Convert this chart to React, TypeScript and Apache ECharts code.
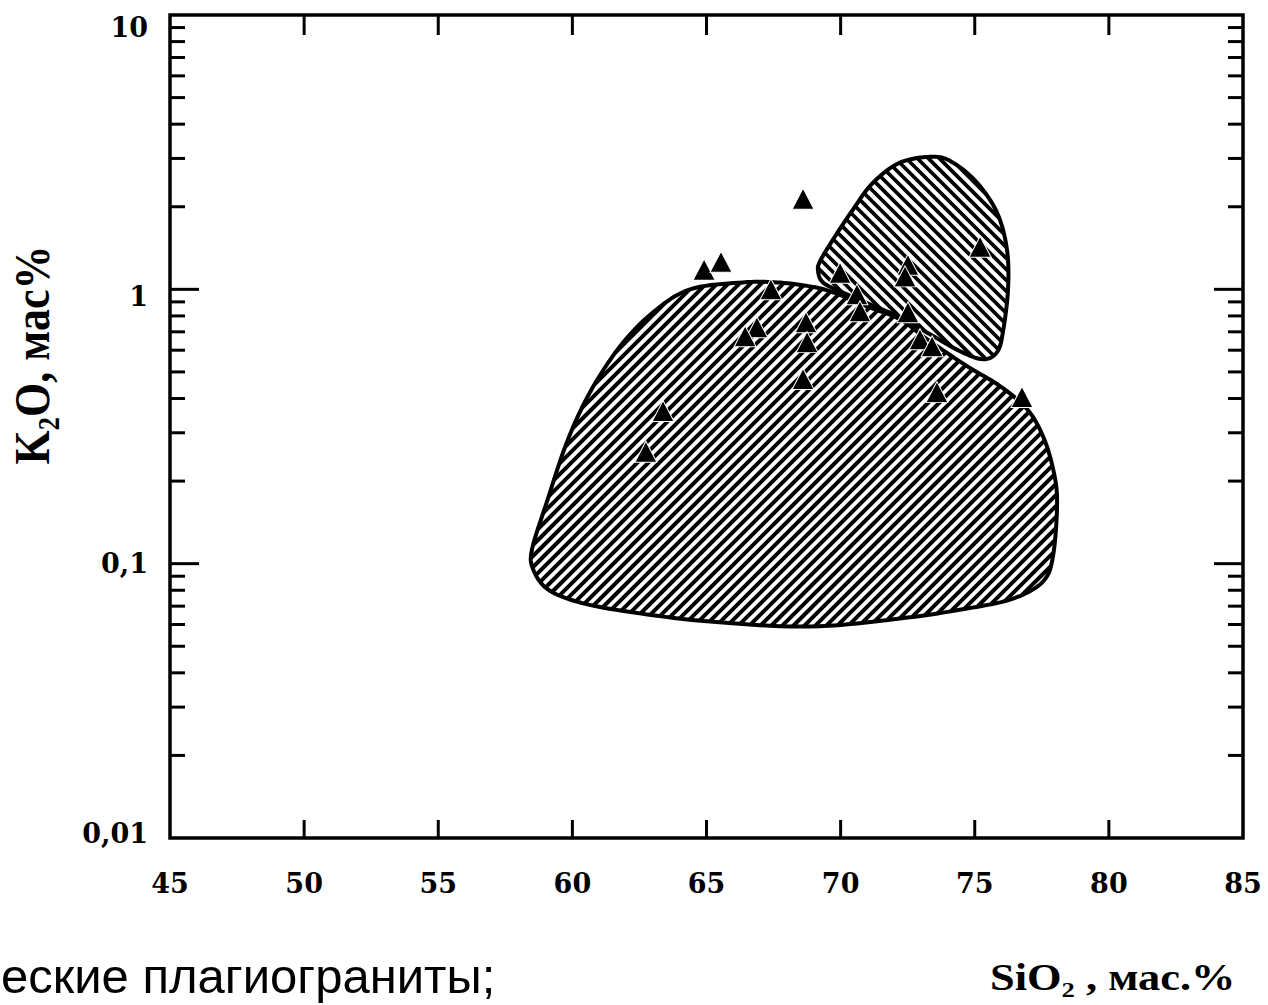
import React, { useEffect, useRef } from 'react';
import * as echarts from 'echarts';

// ---- axis ticks ----
const xTickValues = [45, 50, 55, 60, 65, 70, 75, 80, 85];
const xInnerTicks = [50, 55, 60, 65, 70, 75, 80];
const yTickValues = [0.01, 0.1, 1, 10];
const yTickLabels = ['0,01', '0,1', '1', '10'];
const yMajorInnerTicks = [0.1, 1];
const yMinorTicks = [
  0.02, 0.03, 0.04, 0.05, 0.06, 0.07, 0.08, 0.09,
  0.2, 0.3, 0.4, 0.5, 0.6, 0.7, 0.8, 0.9,
  2, 3, 4, 5, 6, 7, 8, 9,
];

// ---- samples (triangles) ----
const sampleSiO2 = [62.74, 63.38, 64.91, 65.54, 67.4, 68.6, 66.88, 66.44, 68.71, 68.75, 68.6, 69.98, 70.61, 70.72, 72.51, 72.4, 72.51, 72.96, 73.41, 75.2, 73.59, 76.76];
const sampleK2O = [0.256, 0.36, 1.18, 1.26, 1.0, 2.14, 0.727, 0.675, 0.759, 0.642, 0.471, 1.15, 0.959, 0.832, 1.23, 1.115, 0.825, 0.658, 0.62, 1.43, 0.422, 0.405];

// ---- field outlines ----
const bigFieldSiO2 = [66.36, 67.63, 68.86, 69.72, 70.98, 72.21, 73.22, 74.71, 75.94, 76.95, 77.54, 77.92, 78.07, 77.92, 77.54, 76.43, 74.71, 72.21, 68.86, 65.13, 62.04, 60.17, 59.05, 58.53, 58.5, 59.05, 59.8, 60.66, 61.78, 63.01, 64.39];
const bigFieldK2O = [1.06, 1.06, 1.025, 0.975, 0.867, 0.778, 0.658, 0.525, 0.444, 0.366, 0.292, 0.2215, 0.168, 0.107, 0.086, 0.0746, 0.0686, 0.0631, 0.059, 0.0615, 0.0669, 0.0727, 0.0811, 0.0959, 0.1133, 0.168, 0.2778, 0.422, 0.62, 0.825, 1.0];
const smallFieldSiO2 = [73.44, 74.19, 75.08, 75.83, 76.2, 76.24, 76.05, 75.83, 75.31, 74.45, 73.33, 72.21, 71.1, 69.98, 69.34, 69.16, 69.23, 69.72, 70.46, 71.21, 72.21];
const smallFieldK2O = [3.045, 2.896, 2.449, 1.905, 1.398, 1.0, 0.698, 0.59, 0.556, 0.595, 0.686, 0.791, 0.882, 0.983, 1.06, 1.163, 1.264, 1.52, 1.954, 2.449, 2.896];

const xTitle = 'SiO₂ , мас.%';
const yTitle = 'K₂O, мас%';
const captionText = 'еские плагиограниты;';

type Pt = number[];

function catmullClosed(pts: Pt[], steps: number): Pt[] {
  const n = pts.length;
  const out: Pt[] = [];
  for (let i = 0; i < n; i++) {
    const p0 = pts[(i - 1 + n) % n];
    const p1 = pts[i];
    const p2 = pts[(i + 1) % n];
    const p3 = pts[(i + 2) % n];
    for (let s = 0; s < steps; s++) {
      const t = s / steps;
      const t2 = t * t;
      const t3 = t2 * t;
      const f = (a: number, b: number, c: number, d: number) =>
        0.5 * (2 * b + (-a + c) * t + (2 * a - 5 * b + 4 * c - d) * t2 + (-a + 3 * b - 3 * c + d) * t3);
      out.push([f(p0[0], p1[0], p2[0], p3[0]), f(p0[1], p1[1], p2[1], p3[1])]);
    }
  }
  return out;
}

function hatchLines(poly: Pt[], dir: number, spacing: number, width: number) {
  const fv = (p: Pt) => p[0] + dir * p[1];
  let mn = Infinity;
  let mx = -Infinity;
  poly.forEach((p) => {
    const v = fv(p);
    if (v < mn) mn = v;
    if (v > mx) mx = v;
  });
  const lines: any[] = [];
  for (let c = Math.ceil(mn / spacing) * spacing; c <= mx; c += spacing) {
    const hits: Pt[] = [];
    for (let i = 0; i < poly.length; i++) {
      const a = poly[i];
      const b = poly[(i + 1) % poly.length];
      const sa = fv(a) - c;
      const sb = fv(b) - c;
      if ((sa < 0 && sb >= 0) || (sa >= 0 && sb < 0)) {
        const t = sa / (sa - sb);
        hits.push([a[0] + t * (b[0] - a[0]), a[1] + t * (b[1] - a[1])]);
      }
    }
    hits.sort((p, q) => p[0] - q[0]);
    for (let k = 0; k + 1 < hits.length; k += 2) {
      lines.push({
        type: 'line',
        shape: { x1: hits[k][0], y1: hits[k][1], x2: hits[k + 1][0], y2: hits[k + 1][1] },
        style: { stroke: '#000', lineWidth: width },
      });
    }
  }
  return lines;
}

function fieldRenderer(xs: number[], ys: number[], dir: number, spacing: number, width: number) {
  return (params: any, api: any) => {
    const pts = xs.map((x, i) => api.coord([x, ys[i]]));
    const smooth = catmullClosed(pts, 10);
    return {
      type: 'group',
      children: [
        { type: 'polygon', shape: { points: smooth }, style: { fill: '#fff', stroke: null } },
        ...hatchLines(smooth, dir, spacing, width),
        { type: 'polygon', shape: { points: smooth }, style: { fill: 'none', stroke: '#000', lineWidth: 4 } },
      ],
    };
  };
}

export default function App() {
  const ref = useRef<HTMLDivElement>(null);

  useEffect(() => {
    if (!ref.current) return;
    const chart = echarts.init(ref.current, undefined, { renderer: 'svg' });

    const tickData = [
      ...yMinorTicks.map((v) => [60, v, 0]),
      ...yMajorInnerTicks.map((v) => [60, v, 1]),
      ...xInnerTicks.map((v) => [v, 1, 2]),
    ];

    const option: any = {
      animation: false,
      backgroundColor: '#fff',
      grid: {
        left: 170,
        top: 15,
        right: 25,
        bottom: 167,
        show: true,
        borderColor: '#000',
        borderWidth: 3.5,
        backgroundColor: 'transparent',
      },
      xAxis: {
        type: 'value',
        min: 45,
        max: 85,
        interval: 5,
        axisLine: { show: false },
        axisTick: { show: false },
        splitLine: { show: false },
        axisLabel: {
          color: '#000',
          fontFamily: 'DejaVu Serif',
          fontWeight: 'bold',
          fontSize: 27,
          margin: 32,
          formatter: (v: number) => (xTickValues.indexOf(v) >= 0 ? String(v) : ''),
        },
      },
      yAxis: {
        type: 'log',
        logBase: 10,
        min: 0.01,
        max: 10,
        axisLine: { show: false },
        axisTick: { show: false },
        splitLine: { show: false },
        minorTick: { show: false },
        axisLabel: {
          color: '#000',
          fontFamily: 'DejaVu Serif',
          fontWeight: 'bold',
          fontSize: 27,
          margin: 22,
          formatter: (v: number) => {
            const i = yTickValues.findIndex((t) => Math.abs(Math.log10(t) - Math.log10(v)) < 1e-6);
            if (i < 0) return '';
            const style = ['up', 'mid', 'down', 'downMore'][i];
            return '{' + style + '|' + yTickLabels[i] + '}';
          },
          rich: {
            up: { padding: [0, 0, 10, 0] },
            mid: { padding: [0, 0, 0, 0] },
            down: { padding: [14, 0, 0, 0] },
            downMore: { padding: [24, 0, 0, 0] },
          },
        },
      },
      series: [
        {
          type: 'custom',
          name: 'big',
          coordinateSystem: 'cartesian2d',
          clip: false,
          z: 2,
          silent: true,
          data: [[68, 0.3]],
          renderItem: fieldRenderer(bigFieldSiO2, bigFieldK2O, 1, 11, 4),
        },
        {
          type: 'custom',
          name: 'small',
          coordinateSystem: 'cartesian2d',
          clip: false,
          z: 3,
          silent: true,
          data: [[73, 1.5]],
          renderItem: fieldRenderer(smallFieldSiO2, smallFieldK2O, -1, 11, 3.7),
        },
        {
          type: 'custom',
          name: 'ticks',
          coordinateSystem: 'cartesian2d',
          clip: false,
          z: 4,
          silent: true,
          data: tickData,
          renderItem: (params: any, api: any) => {
            const kind = api.value(2);
            const st = { stroke: '#000', lineWidth: 3 };
            if (kind === 2) {
              const v = api.value(0);
              const b = api.coord([v, 0.01]);
              const t = api.coord([v, 10]);
              return {
                type: 'group',
                children: [
                  { type: 'line', shape: { x1: b[0], y1: b[1], x2: b[0], y2: b[1] - 18 }, style: st },
                  { type: 'line', shape: { x1: t[0], y1: t[1], x2: t[0], y2: t[1] + 20 }, style: st },
                ],
              };
            }
            const v = api.value(1);
            const l = api.coord([45, v]);
            const r = api.coord([85, v]);
            const len = kind === 1 ? 29 : 15;
            return {
              type: 'group',
              children: [
                { type: 'line', shape: { x1: l[0], y1: l[1], x2: l[0] + len, y2: l[1] }, style: st },
                { type: 'line', shape: { x1: r[0], y1: r[1], x2: r[0] - len, y2: r[1] }, style: st },
              ],
            };
          },
        },
        {
          type: 'scatter',
          name: 'samples',
          z: 5,
          symbol: 'triangle',
          symbolSize: [22, 21],
          itemStyle: { color: '#000', borderColor: '#fff', borderWidth: 1, opacity: 1 },
          data: sampleSiO2.map((x, i) => [x, sampleK2O[i]]),
        },
      ],
      graphic: [
        {
          type: 'text',
          x: 32,
          y: 355,
          rotation: Math.PI / 2,
          scaleY: 1.15,
          style: {
            text: yTitle,
            font: 'bold 44px "Liberation Serif"',
            fill: '#000',
            align: 'center',
            verticalAlign: 'middle',
            textAlign: 'center',
            textVerticalAlign: 'middle',
          },
        },
        {
          type: 'text',
          x: 990,
          y: 978,
          scaleX: 1.2,
          style: {
            text: xTitle,
            font: 'bold 37px "Liberation Serif"',
            fill: '#000',
            align: 'left',
            verticalAlign: 'middle',
            textAlign: 'left',
            textVerticalAlign: 'middle',
          },
        },
        {
          type: 'text',
          x: 1,
          y: 976,
          style: {
            text: captionText,
            font: '49px "Liberation Sans"',
            fill: '#000',
            align: 'left',
            verticalAlign: 'middle',
            textAlign: 'left',
            textVerticalAlign: 'middle',
          },
        },
      ],
    };

    chart.setOption(option);
    return () => chart.dispose();
  }, []);

  return (
    <div
      ref={ref}
      style={{ position: 'absolute', left: 0, top: 0, width: 1268, height: 1005, background: '#fff' }}
    />
  );
}
